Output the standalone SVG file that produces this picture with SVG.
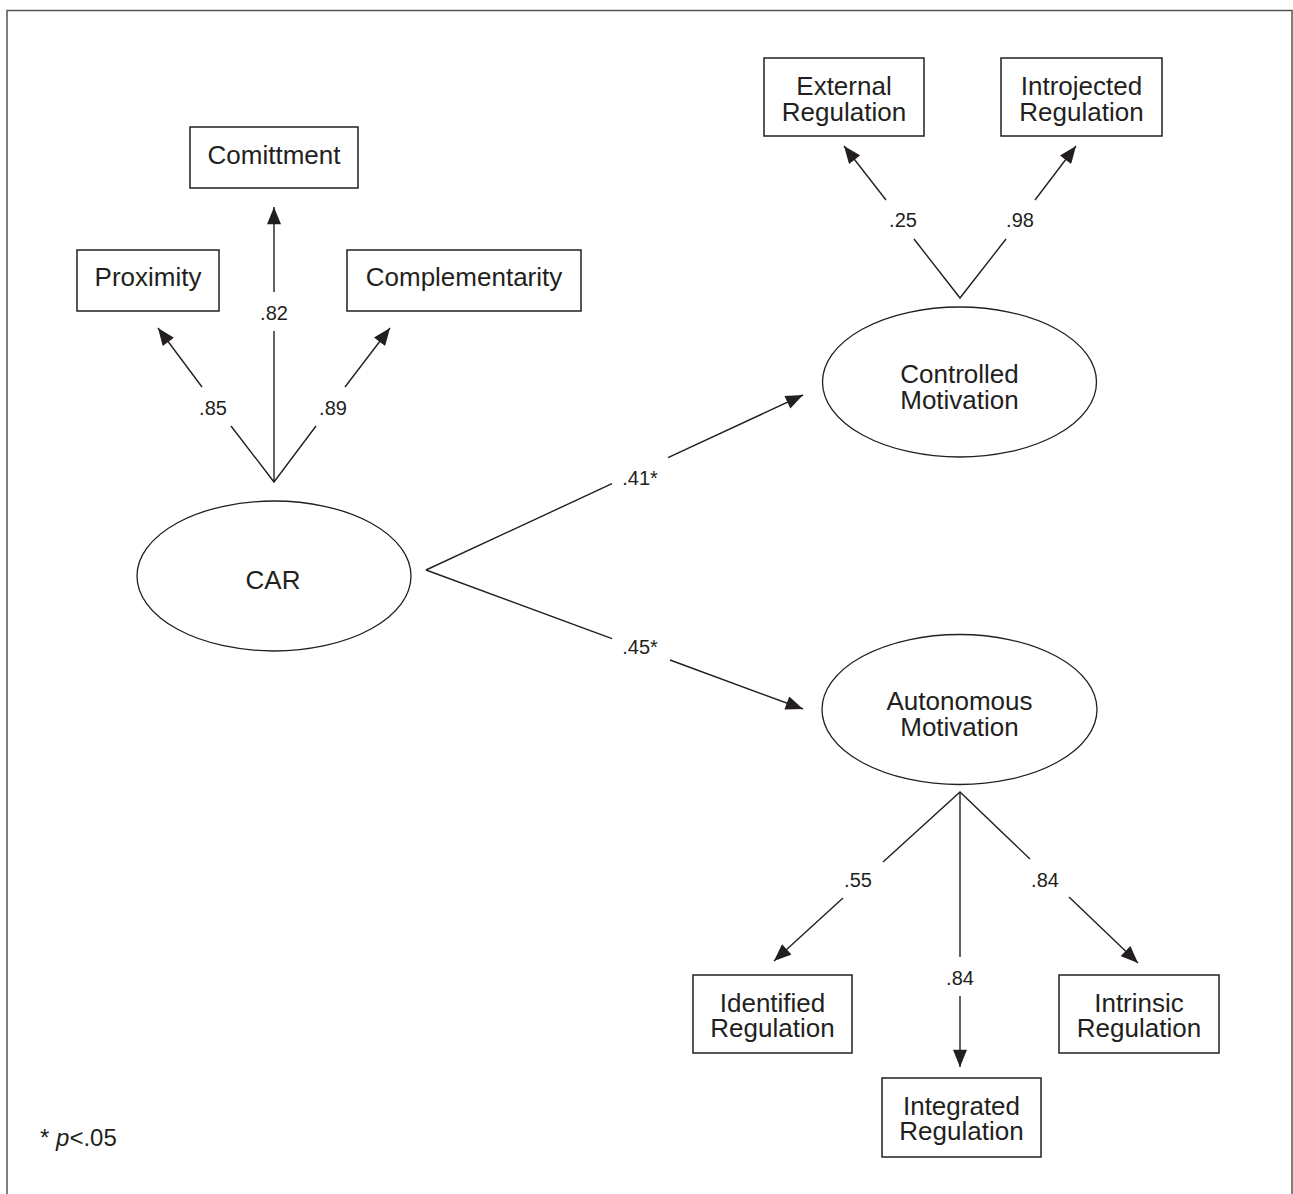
<svg xmlns="http://www.w3.org/2000/svg" width="1293" height="1194" viewBox="0 0 1293 1194">
<defs>
<marker id="ah" markerUnits="userSpaceOnUse" markerWidth="18" markerHeight="14" refX="16" refY="6.5" orient="auto" viewBox="0 0 16 13"><path d="M0,0 L16,6.5 L0,13 Z" fill="#231f20"/></marker>
</defs>
<style>
.box{fill:#fff;stroke:#231f20;stroke-width:1.5}
.lat{fill:#fff;stroke:#231f20;stroke-width:1.3}
.n{font-family:"Liberation Sans",Arial,Helvetica,sans-serif;font-size:26px;fill:#231f20;text-anchor:middle}
.l{font-family:"Liberation Sans",Arial,Helvetica,sans-serif;font-size:20px;fill:#231f20;text-anchor:middle}
.c line,.c polyline{stroke:#231f20;stroke-width:1.4;fill:none}
.a{marker-end:url(#ah)}
</style>
<rect width="1293" height="1194" fill="#fff"/>
<path d="M7,1194 V10.5 H1292 V1194" fill="none" stroke="#555" stroke-width="1.5"/>

<g id="connectors" class="c">
  <polyline points="231,426 274,482 316,426"/>
  <line x1="274" y1="482" x2="274" y2="331"/>
  <line class="a" x1="274" y1="292" x2="274" y2="207"/>
  <line class="a" x1="202" y1="387" x2="158" y2="328"/>
  <line class="a" x1="345" y1="387" x2="390" y2="328"/>

  <polyline points="914,239 960,298 1006,239"/>
  <line class="a" x1="886" y1="200" x2="844" y2="146"/>
  <line class="a" x1="1035" y1="200" x2="1076" y2="146"/>

  <line x1="426" y1="570" x2="612" y2="483.7"/>
  <line class="a" x1="668" y1="457.7" x2="803" y2="395"/>
  <line x1="426" y1="570" x2="612" y2="638.6"/>
  <line class="a" x1="670" y1="660" x2="803" y2="709"/>

  <polyline points="883,862 960,792 1030,859"/>
  <line x1="960" y1="792" x2="960" y2="957"/>
  <line class="a" x1="960" y1="996" x2="960" y2="1067"/>
  <line class="a" x1="843" y1="898" x2="774" y2="961"/>
  <line class="a" x1="1069" y1="897" x2="1138" y2="963"/>
</g>

<g id="edge-labels">
  <text class="l" x="274" y="320">.82</text>
  <text class="l" x="213" y="415">.85</text>
  <text class="l" x="333" y="415">.89</text>
  <text class="l" x="903" y="227">.25</text>
  <text class="l" x="1020" y="227">.98</text>
  <text class="l" x="640" y="485">.41*</text>
  <text class="l" x="640" y="654">.45*</text>
  <text class="l" x="858" y="887">.55</text>
  <text class="l" x="1045" y="887">.84</text>
  <text class="l" x="960" y="985">.84</text>
</g>

<g id="comittment">
  <rect class="box" x="190" y="127" width="168" height="61"/>
  <text class="n" x="274" y="164">Comittment</text>
</g>
<g id="proximity">
  <rect class="box" x="77" y="250" width="142" height="61"/>
  <text class="n" x="148" y="286">Proximity</text>
</g>
<g id="complementarity">
  <rect class="box" x="347" y="250" width="234" height="61"/>
  <text class="n" x="464" y="286">Complementarity</text>
</g>
<g id="car">
  <ellipse class="lat" cx="274" cy="576" rx="137" ry="75"/>
  <text class="n" x="273" y="589">CAR</text>
</g>
<g id="external">
  <rect class="box" x="764" y="58" width="160" height="78"/>
  <text class="n" x="844" y="95">External</text>
  <text class="n" x="844" y="121">Regulation</text>
</g>
<g id="introjected">
  <rect class="box" x="1001" y="58" width="161" height="78"/>
  <text class="n" x="1081.5" y="95">Introjected</text>
  <text class="n" x="1081.5" y="121">Regulation</text>
</g>
<g id="controlled">
  <ellipse class="lat" cx="959.5" cy="382" rx="137" ry="75"/>
  <text class="n" x="959.5" y="383">Controlled</text>
  <text class="n" x="959.5" y="409">Motivation</text>
</g>
<g id="autonomous">
  <ellipse class="lat" cx="959.5" cy="709.5" rx="137.5" ry="75"/>
  <text class="n" x="959.5" y="710">Autonomous</text>
  <text class="n" x="959.5" y="736">Motivation</text>
</g>
<g id="identified">
  <rect class="box" x="693" y="975" width="159" height="78"/>
  <text class="n" x="772.5" y="1012">Identified</text>
  <text class="n" x="772.5" y="1037">Regulation</text>
</g>
<g id="intrinsic">
  <rect class="box" x="1059" y="975" width="160" height="78"/>
  <text class="n" x="1139" y="1012">Intrinsic</text>
  <text class="n" x="1139" y="1037">Regulation</text>
</g>
<g id="integrated">
  <rect class="box" x="882" y="1078" width="159" height="79"/>
  <text class="n" x="961.5" y="1115">Integrated</text>
  <text class="n" x="961.5" y="1140">Regulation</text>
</g>
<g id="footnote">
  <text x="40" y="1146" font-family="'Liberation Sans',Arial,sans-serif" font-size="24" fill="#231f20">* <tspan font-style="italic">p</tspan>&lt;.05</text>
</g>
</svg>
